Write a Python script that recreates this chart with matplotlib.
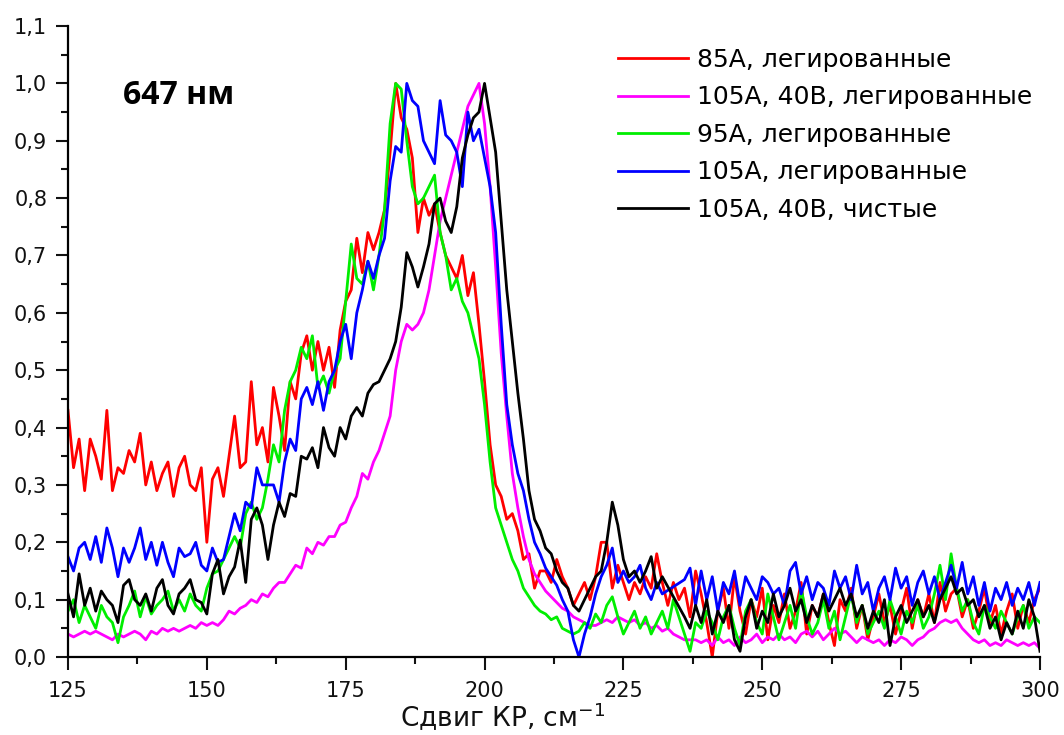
import numpy as np
import matplotlib.pyplot as plt
from matplotlib.ticker import MultipleLocator

plt.rcParams['font.family'] = ['DejaVu Sans']
plt.rcParams['mathtext.fontset'] = 'dejavusans'

nan = np.nan

# Raman shift grid, cm^-1
shift = np.arange(125, 301)

# Normalised Raman intensity, one value per cm^-1 (nan = no point recorded)
red_85a = [
    0.43, 0.33, 0.38, 0.29, 0.38, 0.35, 0.31, 0.43, 0.29, 0.33,
    0.32, 0.36, 0.34, 0.39, 0.30, 0.34, 0.29, 0.32, 0.34, 0.28,
    0.33, 0.35, 0.30, 0.29, 0.33, 0.20, 0.31, 0.33, 0.28, 0.35,
    0.42, 0.33, 0.34, 0.48, 0.37, 0.40, 0.34, 0.47, 0.42, 0.36,
    0.48, 0.45, 0.53, 0.56, 0.50, 0.55, 0.50, 0.54, 0.47, 0.57,
    0.62, 0.64, 0.73, 0.67, 0.74, 0.71, 0.74, 0.78, 0.88, 1.00,
    0.94, 0.92, 0.87, 0.74, 0.80, 0.77, 0.79, 0.74, 0.70, 0.68,
    0.66, 0.70, 0.63, 0.67, 0.58, 0.48, 0.37, 0.30, 0.28, 0.24,
    0.25, 0.22, 0.17, 0.18, 0.12, 0.15, 0.15, 0.13, 0.17, 0.14,
    0.12, 0.09, 0.11, 0.13, 0.10, 0.14, 0.20, 0.20, 0.12, 0.16,
    0.13, 0.10, 0.13, 0.11, 0.14, 0.12, 0.18, 0.13, 0.09, 0.13,
    0.10, 0.12, 0.07, 0.15, 0.11, 0.06, 0.00, 0.08, 0.12, 0.05,
    0.14, 0.08, 0.04, 0.10, 0.07, 0.12, 0.03, 0.09, 0.06, 0.11,
    0.05, 0.08, 0.13, 0.04, 0.09, 0.07, 0.11, 0.06, 0.02, 0.10,
    0.08, 0.12, 0.05, 0.09, 0.03, 0.07, 0.11, 0.06, 0.09, 0.04,
    0.08, 0.12, 0.05, 0.10, 0.07, 0.11, 0.06, 0.13, 0.08, 0.11,
    0.12, 0.07, 0.10, 0.05, 0.08, 0.12, 0.06, 0.09, 0.04, 0.08,
    0.11, 0.05, 0.09, 0.06, 0.10, 0.12,
]

magenta_105a_40b = [
    0.040, 0.035, 0.040, 0.045, 0.040, 0.045, 0.040, 0.035, 0.030, 0.040,
    0.035, 0.040, 0.045, 0.040, 0.030, 0.045, 0.040, 0.050, 0.045, 0.050,
    0.045, 0.050, 0.055, 0.050, 0.060, 0.055, 0.060, 0.055, 0.065, 0.080,
    0.075, 0.085, 0.090, 0.100, 0.095, 0.110, 0.105, 0.120, 0.130, 0.130,
    0.145, 0.160, 0.155, 0.190, 0.180, 0.200, 0.195, 0.210, 0.210, 0.230,
    0.235, 0.260, 0.280, 0.320, 0.310, 0.340, 0.360, 0.390, 0.420, 0.500,
    0.550, 0.580, 0.570, 0.580, 0.600, 0.640, 0.700, 0.760, 0.800, 0.840,
    0.880, 0.920, 0.960, 0.980, 1.000, 0.930, 0.820, 0.680, 0.530, 0.420,
    0.320, 0.260, 0.210, 0.170, 0.145, 0.130, 0.115, 0.105, 0.095, 0.085,
    0.080, 0.070, 0.065, 0.060, 0.055, 0.055, 0.060, 0.065, 0.060, 0.070,
    0.065, 0.060, 0.065, 0.055, 0.060, 0.050, 0.055, 0.045, 0.050, 0.040,
    0.035, 0.030, 0.030, 0.030, 0.025, 0.030, 0.020, 0.035, 0.025, 0.030,
    0.020, 0.035, 0.025, 0.030, 0.040, 0.025, 0.035, 0.030, 0.040, 0.030,
    0.035, 0.025, 0.040, 0.045, 0.035, 0.045, 0.030, 0.040, 0.050, 0.040,
    0.045, 0.035, 0.025, 0.035, 0.030, 0.025, 0.030, 0.020, 0.030, 0.025,
    0.035, 0.030, 0.020, 0.030, 0.035, 0.045, 0.050, 0.060, 0.065, 0.060,
    0.065, 0.050, 0.040, 0.030, 0.025, 0.030, 0.020, 0.025, 0.020, 0.030,
    0.025, 0.020, 0.025, 0.020, 0.025, 0.015,
]

green_95a = [
    0.080, 0.100, 0.060, 0.090, 0.070, 0.050, 0.090, 0.070, 0.060, 0.025,
    0.070, 0.090, 0.115, 0.070, 0.105, 0.075, 0.090, 0.100, 0.115, 0.080,
    0.100, 0.080, 0.110, 0.090, 0.080, 0.120, 0.145, 0.150, 0.170, 0.190,
    0.210, 0.190, 0.250, 0.270, 0.240, 0.260, 0.310, 0.370, 0.340, 0.430,
    0.480, 0.500, 0.540, 0.520, 0.560, 0.470, 0.490, 0.460, 0.500, 0.520,
    0.620, 0.720, 0.660, 0.650, 0.690, 0.640, 0.700, 0.780, 0.930, 1.000,
    0.990, 0.900, 0.820, 0.790, 0.800, 0.820, 0.840, 0.740, 0.700, 0.640,
    0.660, 0.620, 0.600, 0.560, 0.520, 0.440, 0.340, 0.260, 0.230, 0.200,
    0.170, 0.150, 0.120, 0.105, 0.090, 0.080, 0.075, 0.065, 0.070, 0.050,
    0.045, 0.040, 0.045, 0.060, 0.050, 0.075, 0.060, 0.090, 0.105, 0.070,
    0.040, 0.060, 0.080, 0.050, 0.070, 0.040, 0.060, 0.080, 0.050, 0.100,
    0.070, 0.040, 0.010, 0.060, 0.050, 0.080, 0.060, 0.030, 0.070, 0.090,
    0.050, 0.020, 0.080, 0.100, 0.060, 0.040, 0.110, 0.070, 0.030, 0.060,
    0.090, 0.050, 0.120, 0.070, 0.040, 0.060, 0.100, 0.050, 0.080, 0.030,
    0.070, 0.110, 0.060, 0.090, 0.040, 0.060, 0.080, 0.050, 0.100, 0.070,
    0.040, 0.080, 0.060, 0.090, 0.050, 0.070, 0.110, 0.160, 0.100, 0.180,
    0.120, 0.080, 0.100, 0.060, 0.040, 0.090, 0.070, 0.050, 0.080, 0.060,
    0.040, 0.070, 0.090, 0.050, 0.070, 0.060,
]

blue_105a = [
    0.175, 0.150, 0.190, 0.200, 0.170, 0.210, 0.165, 0.225, 0.190, 0.140,
    0.190, 0.165, 0.190, 0.225, 0.170, 0.200, 0.160, 0.200, 0.165, 0.140,
    0.190, 0.175, 0.180, 0.200, 0.160, 0.150, 0.190, 0.165, 0.170, 0.210,
    0.250, 0.220, 0.270, 0.260, 0.330, 0.300, 0.300, 0.300, 0.270, 0.340,
    0.380, 0.360, 0.450, 0.470, 0.440, 0.480, 0.430, 0.480, 0.500, 0.550,
    0.580, 0.520, 0.600, 0.640, 0.690, 0.660, 0.700, 0.730, 0.830, 0.890,
    0.880, 1.000, 0.970, 0.960, 0.900, 0.880, 0.860, 0.970, 0.910, 0.900,
    0.880, 0.820, 0.950, 0.900, 0.920, 0.870, 0.820, 0.740, 0.580, 0.440,
    0.370, 0.320, 0.290, 0.240, 0.200, 0.180, 0.155, 0.140, 0.125, 0.100,
    0.080, 0.030, 0.000, 0.040, 0.070, 0.110, 0.140, 0.160, 0.190, 0.130,
    0.150, 0.130, 0.140, 0.160, 0.120, 0.100, 0.130, 0.110, nan, nan,
    nan, 0.135, 0.155, 0.090, 0.150, 0.100, 0.140, 0.080, 0.130, 0.110,
    0.150, 0.090, 0.140, 0.120, 0.100, 0.140, 0.130, 0.110, 0.120, 0.090,
    0.150, 0.165, 0.110, 0.140, 0.100, 0.130, 0.120, 0.090, 0.150, 0.120,
    0.140, 0.100, 0.160, 0.110, 0.130, 0.080, 0.120, 0.140, 0.100, 0.155,
    0.120, 0.140, 0.090, 0.130, 0.150, 0.110, 0.140, 0.100, 0.130, 0.160,
    0.120, 0.165, 0.110, 0.140, 0.090, 0.130, 0.080, 0.120, 0.100, 0.130,
    0.090, 0.120, 0.100, 0.130, 0.090, 0.130,
]

black_105a_40b_pure = [
    0.110, 0.070, 0.145, 0.090, 0.120, 0.080, 0.115, 0.100, 0.090, 0.060,
    0.125, 0.135, 0.100, 0.090, 0.110, 0.080, 0.120, 0.135, 0.090, 0.075,
    0.110, 0.120, 0.135, 0.100, 0.095, 0.075, 0.145, 0.170, 0.110, 0.140,
    0.157, 0.204, 0.130, 0.240, 0.260, 0.230, 0.170, 0.230, 0.270, 0.245,
    0.285, 0.280, 0.350, 0.345, 0.365, 0.330, 0.400, 0.365, 0.350, 0.400,
    0.380, 0.420, 0.435, 0.420, 0.460, 0.475, 0.480, 0.500, 0.520, 0.550,
    0.610, 0.705, 0.680, 0.645, 0.680, 0.720, 0.790, 0.800, 0.760, 0.740,
    0.785, 0.870, 0.910, 0.940, 0.950, 1.000, 0.940, 0.880, 0.760, 0.640,
    0.550, 0.460, 0.380, 0.290, 0.240, 0.220, 0.190, 0.180, 0.150, 0.130,
    0.120, 0.090, 0.080, 0.100, 0.120, 0.140, 0.150, 0.200, 0.270, 0.230,
    0.170, 0.140, 0.150, 0.130, 0.150, 0.175, 0.120, 0.140, nan, nan,
    nan, 0.070, 0.050, 0.090, 0.060, 0.100, 0.040, 0.080, 0.060, 0.090,
    0.030, 0.010, 0.070, 0.100, 0.050, 0.080, 0.060, 0.110, 0.070, 0.090,
    0.120, 0.080, 0.100, 0.060, 0.090, 0.070, 0.110, 0.080, 0.100, 0.120,
    0.090, 0.110, 0.070, 0.090, 0.050, 0.080, 0.060, 0.100, 0.020, 0.070,
    0.090, 0.060, 0.080, 0.100, 0.070, 0.090, 0.060, 0.100, 0.120, 0.140,
    0.110, 0.120, 0.090, 0.100, 0.070, 0.090, 0.050, 0.070, 0.030, 0.060,
    0.040, 0.080, 0.050, 0.100, 0.070, 0.010,
]

series = [
    (red_85a, '#ff0000', '85A, легированные'),
    (magenta_105a_40b, '#ff00ff', '105A, 40B, легированные'),
    (green_95a, '#00ee00', '95A, легированные'),
    (blue_105a, '#0000ff', '105A, легированные'),
    (black_105a_40b_pure, '#000000', '105A, 40B, чистые'),
]

y_ticks = np.arange(0, 1.101, 0.1)
y_tick_labels = ['0,0', '0,1', '0,2', '0,3', '0,4', '0,5',
                 '0,6', '0,7', '0,8', '0,9', '1,0', '1,1']
x_ticks = [125, 150, 175, 200, 225, 250, 275, 300]

fig = plt.figure(figsize=(10.64, 7.35), dpi=100)
ax = fig.add_axes([0.0639, 0.1061, 0.9135, 0.8585])

for values, color, label in series:
    y = np.array(values, dtype=float)
    ok = ~np.isnan(y)
    ax.plot(shift[ok], y[ok], color=color, lw=2.0, label=label)

ax.set_xlim(125, 300)
ax.set_ylim(0, 1.1)
ax.set_xticks(x_ticks)
ax.set_xticklabels([str(t) for t in x_ticks])
ax.set_yticks(y_ticks)
ax.set_yticklabels(y_tick_labels)
ax.xaxis.set_minor_locator(MultipleLocator(12.5))
ax.yaxis.set_minor_locator(MultipleLocator(0.05))

for side in ('top', 'right'):
    ax.spines[side].set_visible(False)
for side in ('left', 'bottom'):
    ax.spines[side].set_linewidth(1.6)

ax.tick_params(which='major', direction='out', length=9, width=1.5,
               labelsize=15, colors='#111111')
ax.tick_params(which='minor', direction='out', length=5, width=1.5,
               colors='#111111')
ax.tick_params(axis='x', which='major', pad=8)
ax.tick_params(axis='y', which='major', pad=6)

# axis title sits low, under the 200-225 ticks
fig.text(400 / 1064, 8 / 735, 'Сдвиг КР, см$^{-1}$', fontsize=19,
         ha='left', va='baseline', color='#111111')

ax.text(134.9, 0.979, '647 нм', fontsize=23, fontweight='bold',
        family=['Open Sans', 'DejaVu Sans'], va='center', ha='left')

fig.legend(loc='upper left', bbox_to_anchor=(0.581, 0.935),
           frameon=False, fontsize=18, handlelength=2.8,
           handletextpad=0.36, labelspacing=0.54, borderpad=0,
           borderaxespad=0)

fig.savefig('out.png', dpi=100)
